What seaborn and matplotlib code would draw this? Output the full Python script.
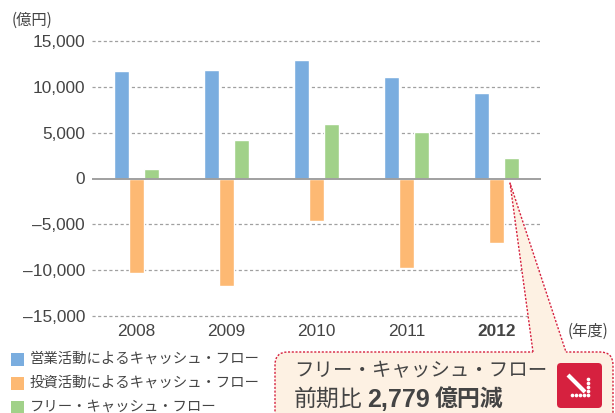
import pandas as pd
import seaborn as sns
import matplotlib.pyplot as plt
from matplotlib.patches import FancyBboxPatch, Polygon, Rectangle

years = ['2008', '2009', '2010', '2011', '2012']
operating = [11750, 11850, 12950, 11070, 9350]
investing = [-10300, -11730, -4640, -9760, -7040]
free_cf = [1000, 4250, 5950, 5100, 2290]
series_names = ['営業活動によるキャッシュ・フロー', '投資活動によるキャッシュ・フロー', 'フリー・キャッシュ・フロー']
colors = ['#7aaddf', '#fdb973', '#a1d189']
y_ticks = [15000, 10000, 5000, 0, -5000, -10000, -15000]
y_labels = ['15,000', '10,000', '5,000', '0', '–5,000', '–10,000', '–15,000']

sns.set_theme(style='white')
plt.rcParams['font.family'] = ['Liberation Sans', 'Noto Sans CJK JP', 'DejaVu Sans']
TXT = '#444444'
RED = '#d6213f'
CREAM = '#fdf1e3'
JP = ['Noto Sans CJK JP', 'DejaVu Sans']

df = pd.DataFrame({'year': years, series_names[0]: operating, series_names[1]: investing, series_names[2]: free_cf})
df = df.melt(id_vars='year', var_name='series', value_name='value')

fig = plt.figure(figsize=(6.15, 4.13), dpi=100)
W, H = 615, 413
ax = fig.add_axes([92 / W, 1 - 316 / H, (541 - 92) / W, (316 - 41) / H])
sns.barplot(data=df, x='year', y='value', hue='series', palette=colors, width=0.5, gap=0,
            saturation=1, legend=False, ax=ax, zorder=3)
ax.set_xlim(-0.497, 4.495)
ax.set_ylim(-15000, 15000)
ax.set_xlabel('')
ax.set_ylabel('')
for spine in ['top', 'right', 'left', 'bottom']:
    ax.spines[spine].set_visible(False)

ax.set_yticks(y_ticks)
ax.set_yticklabels(y_labels, fontsize=12.4, color=TXT)
ax.tick_params(axis='both', length=0)
ax.tick_params(axis='y', pad=5)
ax.tick_params(axis='x', pad=6)
ax.set_xticks(range(len(years)))
ax.set_xticklabels(years, fontsize=12.4, color=TXT)
ax.get_xticklabels()[-1].set_fontweight('bold')
for t in y_ticks:
    if t != 0:
        ax.axhline(t, color='#a0a0a0', lw=0.9, ls=(0, (2.5, 2)), zorder=1, clip_on=False)
ax.axhline(0, color='#a0a0a0', lw=1.4, zorder=4)

# pixel overlay for notes, legend and the callout
ov = fig.add_axes([0, 0, 1, 1], zorder=5)
ov.set_xlim(0, W)
ov.set_ylim(H, 0)
ov.axis('off')
ov.patch.set_alpha(0)

ov.text(12, 20, '(億円)', fontsize=11, color=TXT, family=JP, va='center', ha='left')
ov.text(568, 331, '(年度)', fontsize=11, color=TXT, family=JP, va='center', ha='left')

for i, name in enumerate(series_names):
    y = 359 + i * 24
    ov.add_patch(Rectangle((11, y - 6), 12.5, 12.5, color=colors[i], lw=0))
    ov.text(30, y - 0.5, name, fontsize=10.4, color=TXT, family=JP, va='center', ha='left')

# callout box
box = FancyBboxPatch((275, 352), 338, 90, boxstyle='round,pad=0,rounding_size=13',
                     fc=CREAM, ec=RED, lw=1, ls=(0, (1.5, 1.2)), clip_on=True)
ov.add_patch(box)
ov.add_patch(Polygon([(510, 183), (533, 353), (566, 353)], closed=True, fc=CREAM, ec='none'))
ov.plot([533, 510, 566], [352, 183, 352], color=RED, lw=1, ls=(0, (1.5, 1.2)))

ov.text(294, 371, 'フリー・キャッシュ・フロー', fontsize=14, color=TXT, family=JP, va='center', ha='left')
ov.text(294, 399.5, '前期比', fontsize=16.5, color=TXT, family=JP, va='center', ha='left')
ov.text(367, 400, '2,779', fontsize=18, color=TXT, weight='bold', va='center', ha='left')
ov.text(435, 399.5, '億円減', fontsize=16.5, color=TXT, family=JP, weight='bold', va='center', ha='left')

# down arrow icon
ov.add_patch(FancyBboxPatch((557, 363), 45, 45, boxstyle='round,pad=0,rounding_size=4', fc=RED, ec='none'))
ov.plot([568, 585], [375, 392], color='white', lw=3, solid_capstyle='butt')
ov.scatter([588, 588, 588, 588, 588, 572, 576, 580, 584],
           [379, 383, 387, 391, 395, 395, 395, 395, 395], s=7, color='white', lw=0)

fig.savefig('out.png', dpi=100)
